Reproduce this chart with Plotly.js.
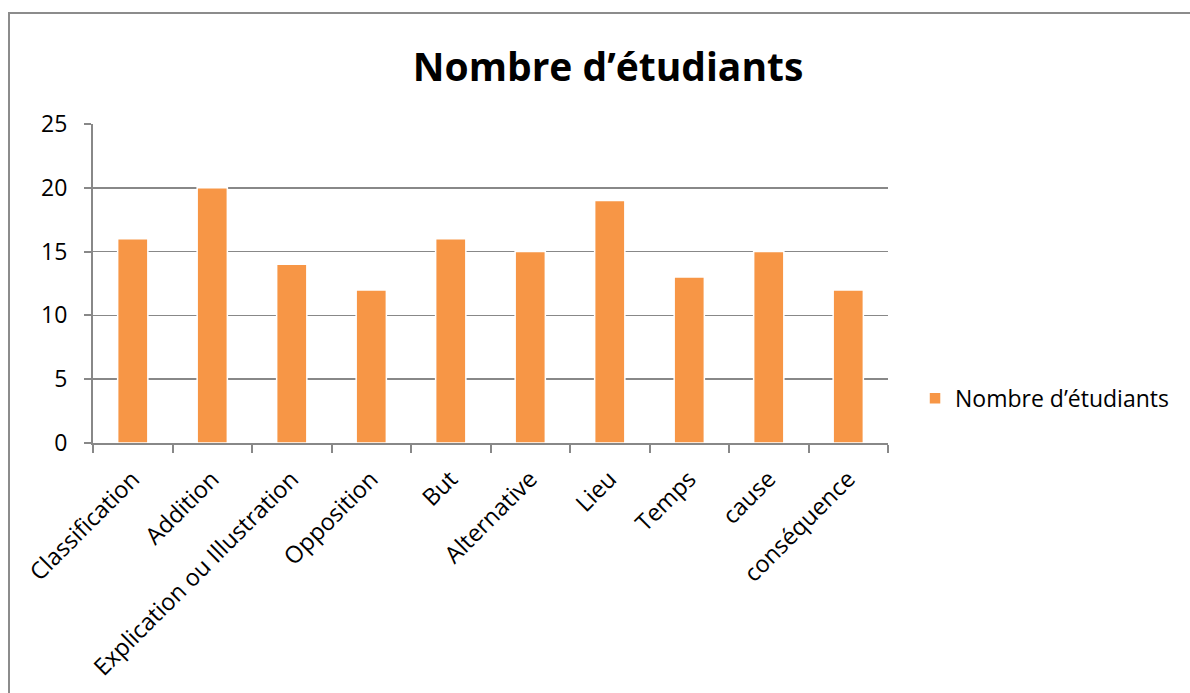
<!DOCTYPE html>
<html>
<head>
<meta charset="utf-8">
<script src="https://cdn.plot.ly/plotly-3.0.1.min.js"></script>
<style>
html,body{margin:0;padding:0;background:#fff;}
#frame{position:absolute;left:8px;top:12px;width:1190px;height:700px;border-left:2px solid #8c8c8c;border-top:2px solid #8c8c8c;}
#chart{position:absolute;left:0;top:0;width:1190px;height:693px;}
</style>
</head>
<body>
<div id="frame"></div>
<div id="chart"></div>
<script>
const categories = ["Classification","Addition","Explication ou Illustration","Opposition","But","Alternative","Lieu","Temps","cause","conséquence"];
const values = [16,20,14,12,16,15,19,13,15,12];
const seriesName = "Nombre d’étudiants";
const yTicks = [0,5,10,15,20,25];

const FONT = "'Open Sans', Lato, sans-serif";

Plotly.newPlot('chart', [{
  type: 'bar',
  x: categories,
  y: values,
  name: seriesName,
  marker: {color: '#F79646', line: {color: '#ffffff', width: 1.5}},
  showlegend: true
}], {
  width: 1190, height: 693,
  paper_bgcolor: 'rgba(0,0,0,0)',
  plot_bgcolor: 'rgba(0,0,0,0)',
  margin: {l: 93, r: 302, t: 124, b: 250},
  bargap: 0.62,
  font: {family: FONT, color: '#000'},
  title: {text: '<b>Nombre d’étudiants</b>', font: {family: FONT, size: 39, color: '#000'},
          xref: 'container', x: 0.511, xanchor: 'center', yref: 'container', y: 0.903, yanchor: 'middle'},
  xaxis: {
    type: 'category', tickangle: -45, tickfont: {size: 23.5, family: FONT},
    showline: true, linecolor: '#888', linewidth: 2,
    ticks: 'outside', tickson: 'boundaries', ticklen: 8, tickcolor: '#888', tickwidth: 2,
    showgrid: false, ticklabelstandoff: 11
  },
  yaxis: {
    range: [0, 25], tickvals: yTicks, tickfont: {size: 23, family: FONT},
    showline: true, linecolor: '#888', linewidth: 2,
    ticks: 'outside', ticklen: 7, tickcolor: '#888', tickwidth: 2,
    gridcolor: '#888', gridwidth: 1.5, zeroline: false, ticklabelstandoff: 12
  },
  legend: {x: 1.034, xanchor: 'left', y: 0.14, yanchor: 'middle', font: {size: 23, family: FONT}, bgcolor: 'rgba(0,0,0,0)'}
}, {displayModeBar: false, staticPlot: true});
</script>
</body>
</html>
